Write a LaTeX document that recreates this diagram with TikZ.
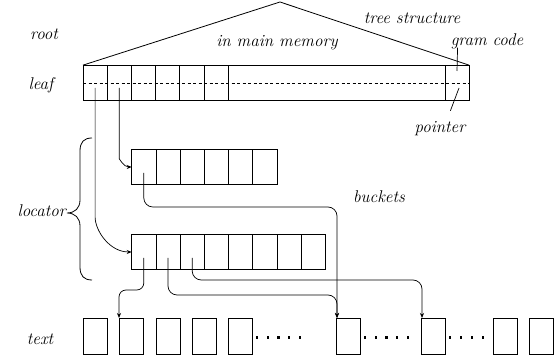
\documentclass[tikz,border=0pt]{standalone}
\usepackage{tikz}
\usetikzlibrary{arrows.meta}

\begin{document}
\begin{tikzpicture}[x=1pt,y=1pt]
\tikzset{
  cl/.style={rectangle,draw=black,line width=0.8pt,minimum width=24.2pt,minimum height=35.7pt,inner sep=0pt,outer sep=0pt},
  tb/.style={rectangle,draw=black,line width=0.8pt,minimum width=24pt,minimum height=36pt,inner sep=0pt,outer sep=0pt},
  ar/.style={-{Stealth[length=5pt,width=4pt]},line width=0.7pt,rounded corners=9pt},
  ln/.style={line width=0.7pt},
  lb/.style={font=\fontsize{17}{20}\selectfont\itshape,inner sep=0pt,anchor=base}
}
\useasboundingbox (0,0) rectangle (557,358);
\foreach \i in {1,...,6}{\node[cl] (l\i) at ({83+24.2*(\i-0.5)},275) {};}
\node[cl,minimum width=216.8pt] (lm) at (336.6,275) {};
\node[cl,minimum width=24pt] (lg) at (457,275) {};
\coordinate (apex) at (280,356);
\draw[line width=0.8pt] (l1.north west) -- (apex) -- (lg.north east);
\draw[ln,dash pattern=on 3pt off 2.5pt] (l1.west) -- (lg.east);
\foreach \i in {1,...,6}{\node[cl] (a\i) at ({131.7+24.2*(\i-0.5)},191) {};}
\foreach \i in {1,...,8}{\node[cl] (b\i) at ({131.7+24.2*(\i-0.5)},106) {};}
\foreach \n/\x in {1/95,2/131,3/168,4/204,5/240,6/348,7/433,8/505,9/541}{\node[tb] (t\n) at (\x,22) {};}
\foreach \x in {257,268,278.5,289,300,365,376,386.5,397,408,450,461,472,483}{\fill (\x-1.3,19) rectangle ++(2.6,2.6);}
\node[lb] (nroot) at (44,318) {root};
\node[lb] (nleaf) at (41,268.5) {leaf};
\node[lb] (ntree) at (412,334) {tree structure};
\node[lb] (nmem) at (277,311) {in main memory};
\node[lb] (ngc) at (487,312) {gram code};
\node[lb] (nptr) at (440,225) {pointer};
\node[lb] (nbk) at (379,155) {buckets};
\node[lb,anchor=base east] (nloc) at (66,141) {locator};
\node[lb] (ntext) at (40,13) {text};
\draw[ln] ([yshift=12pt]lg.center) -- ([xshift=7pt,yshift=2pt]ngc.south west);
\draw[ln] ([xshift=2pt,yshift=-5pt]lg.center) -- ([xshift=36pt,yshift=11pt]nptr.north west);
\draw[line width=0.8pt] (92,220) .. controls (84,220) and (80,216) .. (80,207) -- (80,158) .. controls (80,150) and (75,145) .. (67,145) .. controls (75,145) and (80,140) .. (80,132) -- (80,91) .. controls (80,82) and (84,78) .. (92,78);
\draw[ar] ([yshift=-5pt]l1.center) -- ++(0,-120) to[out=-90,in=180] (b1.west);
\draw[ar] ([yshift=-5pt]l2.center) -- ++(0,-62) to[out=-90,in=180] (a1.west);
\draw[ar] ([yshift=-6pt]a1.center) -- ++(0,-34) -| ([xshift=1pt]t6.north west);
\draw[ar,rounded corners=7pt] ([yshift=-6pt]b1.center) -- ++(0,-32) -| (t2.north west);
\draw[ar] ([yshift=-6pt]b2.center) -- ++(0,-37) -| ([xshift=1pt]t6.north west);
\draw[ar] ([yshift=-6pt]b3.center) -- ++(0,-22) -| ([xshift=1pt]t7.north west);
\end{tikzpicture}
\end{document}
